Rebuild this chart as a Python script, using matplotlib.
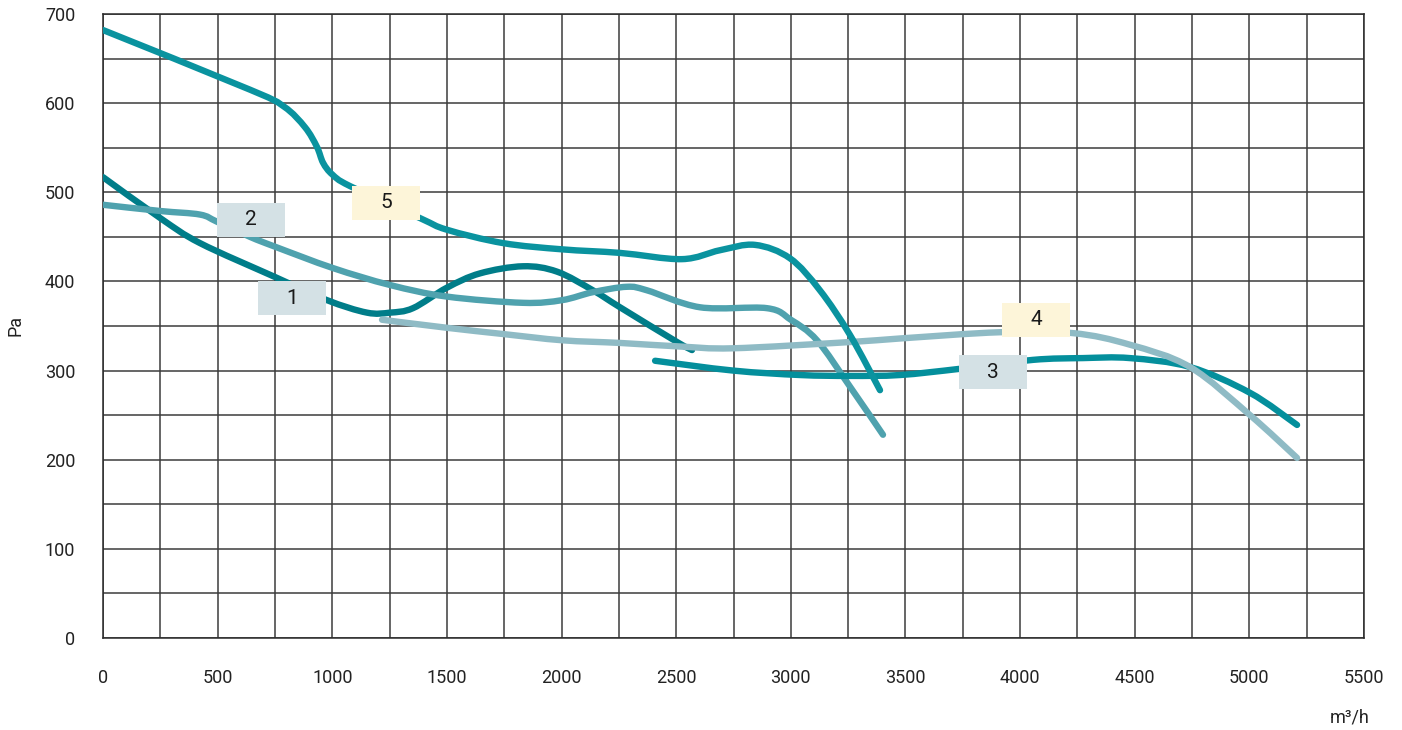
import numpy as np
import matplotlib
matplotlib.use("Agg")
import matplotlib.pyplot as plt
from matplotlib.path import Path
from matplotlib.patches import PathPatch, Rectangle

plt.rcParams['font.family'] = ['Roboto', 'DejaVu Sans']

# Fan performance curves: airflow (m³/h) vs static pressure (Pa)
flow_1 = [0, 250, 423, 750, 977, 1151, 1252, 1352, 1500, 1644, 1832, 1980, 2137, 2255, 2504, 2569]
pres_1 = [517, 471, 443, 405, 379, 365, 365, 370, 393, 409, 417, 411, 390, 371, 332, 323]

flow_2 = [0, 250, 423, 497, 641, 750, 1003, 1252, 1500, 1832, 2002, 2137, 2285, 2373, 2604, 2896, 3000, 3114, 3258, 3402]
pres_2 = [486, 479, 475, 467, 450, 439, 415, 396, 383, 376, 379, 388, 394, 390, 371, 370, 357, 334, 282, 228]

flow_3 = [2408, 2748, 3040, 3258, 3476, 3738, 4056, 4274, 4479, 4741, 5003, 5208]
pres_3 = [311, 300, 295, 294, 295, 302, 312, 314, 314, 304, 275, 239]

flow_4 = [1217, 1500, 1745, 2002, 2255, 2517, 2748, 3258, 3476, 3912, 4231, 4479, 4741, 5003, 5208]
pres_4 = [357, 348, 341, 334, 331, 327, 325, 332, 336, 343, 342, 329, 304, 250, 202]

flow_5 = [0, 642, 790, 881, 933, 960, 1000, 1077, 1383, 1500, 1745, 2002, 2255, 2525, 2691, 2844, 2996, 3127, 3258, 3389]
pres_5 = [682, 615, 596, 573, 551, 533, 520, 507, 471, 458, 443, 436, 432, 425, 435, 441, 426, 390, 340, 278]

curve_names = ['1', '2', '3', '4', '5']
label_flow = [824, 645, 3882, 4069, 1234]
label_pres = [381, 469, 298, 357, 488]

x_ticks = list(range(0, 5501, 500))
y_ticks = list(range(0, 701, 100))

line_colors = ['#007d89', '#4fa2ae', '#048f9c', '#8fbbc5', '#0a939f']
box_colors = ['#d4e1e5', '#d4e1e5', '#d4e1e5', '#fdf5d9', '#fdf5d9']


def smooth_path(xs, ys):
    """Catmull-Rom style cubic Bezier path through the given points."""
    pts = np.column_stack([xs, ys]).astype(float)
    verts = [pts[0]]
    codes = [Path.MOVETO]
    n = len(pts)
    for i in range(n - 1):
        p0 = pts[i - 1] if i > 0 else pts[i]
        p1 = pts[i]
        p2 = pts[i + 1]
        p3 = pts[i + 2] if i + 2 < n else pts[i + 1]
        c1 = p1 + (p2 - p0) / 6.0
        c2 = p2 - (p3 - p1) / 6.0
        verts += [c1, c2, p2]
        codes += [Path.CURVE4] * 3
    return Path(verts, codes)


fig = plt.figure(figsize=(14.02, 7.30), dpi=100)
ax = fig.add_axes([103 / 1402, 92 / 730, 1261 / 1402, 624 / 730])

ax.set_xlim(0, 5500)
ax.set_ylim(0, 700)
ax.set_xticks(x_ticks)
ax.set_yticks(y_ticks)
ax.set_xticks(range(0, 5501, 250), minor=True)
ax.set_yticks(range(0, 701, 50), minor=True)
ax.grid(True, which='both', color='#3c3c3c', linewidth=1.1)
ax.set_axisbelow(True)
for s in ax.spines.values():
    s.set_color('#2a2a2a')
    s.set_linewidth(1.1)
ax.tick_params(which='both', length=0)
ax.tick_params(axis='x', pad=22, labelsize=13, labelcolor='#222222')
ax.tick_params(axis='y', pad=20, labelsize=13, labelcolor='#222222')

series = [(flow_1, pres_1), (flow_2, pres_2), (flow_3, pres_3), (flow_4, pres_4), (flow_5, pres_5)]
for (fx, py), col in zip(series, line_colors):
    patch = PathPatch(smooth_path(fx, py), facecolor='none', edgecolor=col,
                      linewidth=4.6, capstyle='round', joinstyle='round', zorder=3)
    ax.add_patch(patch)

# Number tags on the curves
box_w, box_h = 295, 38
for name, lx, ly, bc in zip(curve_names, label_flow, label_pres, box_colors):
    ax.add_patch(Rectangle((lx - box_w / 2, ly - box_h / 2), box_w, box_h,
                           facecolor=bc, edgecolor='none', zorder=5))
    ax.text(lx, ly, name, ha='center', va='center', fontsize=15,
            color='#1a1a1a', zorder=6)

fig.text(15 / 1402, 1 - 325 / 730, 'Pa', rotation=90, ha='center', va='center',
         fontsize=13, color='#222222')
fig.text(1350 / 1402, 1 - 717 / 730, 'm³/h', ha='center', va='center',
         fontsize=13, color='#222222')

fig.savefig('out.png', dpi=100, facecolor='white')
